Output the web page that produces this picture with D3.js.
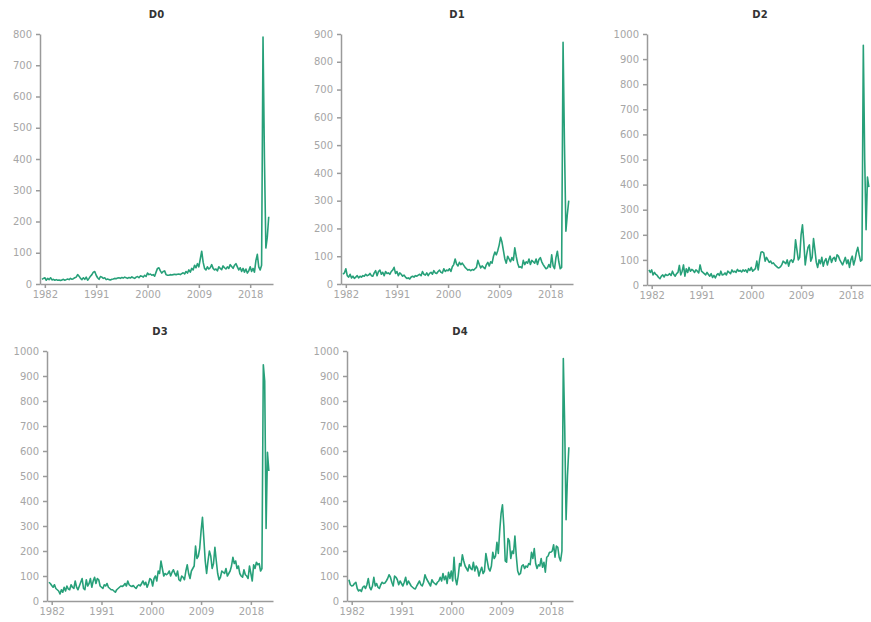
<!DOCTYPE html>
<html>
<head>
<meta charset="utf-8">
<script src="https://cdn.jsdelivr.net/npm/d3@7"></script>
<style>
  body { margin: 0; background: #fff; }
  .axis text { font: 10px "DejaVu Sans", Verdana, sans-serif; fill: #a6a6a6; }
  .axis path, .axis line { stroke: #9a9a9a; stroke-width: 1.5; }
  .title { font: bold 10px "DejaVu Sans", Verdana, sans-serif; fill: #333; }
</style>
</head>
<body>
<div id="chart"></div>
<script>
// Quarterly series, first value at 1981.5
const startYear = 1981.5;
const step = 0.25;

const titles = ["D0", "D1", "D2", "D3", "D4"];
const yMax = [800, 900, 1000, 1000, 1000];
const xTicks = [1982, 1991, 2000, 2009, 2018];

const d0 = [
  15, 18,
  20, 12, 18, 14,  20, 13, 15, 12,  14, 12, 13, 11,  13, 15, 12, 14,
  16, 14, 18, 15,  17, 20, 22, 30,  25, 18, 14, 20,  15, 22, 12, 18,
  25, 30, 38, 40,  28, 20, 15, 24,  22, 18, 20, 14,  16, 14, 13, 15,
  16, 18, 17, 19,  20, 18, 21, 19,  22, 20, 18, 21,  19, 23, 20, 18,
  22, 24, 20, 26,  25, 22, 28, 24,  35, 30, 32, 28,  30, 25, 38, 50,
  52, 42, 35, 40,  42, 30, 28, 28,  30, 29, 30, 31,  30, 31, 32, 30,
  33, 36, 32, 40,  35, 45, 38, 50,  45, 60, 52, 65,  55, 80, 105, 70,
  50, 45, 55, 48,  52, 62, 50, 45,  48, 42, 55, 50,  46, 58, 52, 48,
  55, 50, 62, 56,  50, 60, 65, 55,  45, 52, 40, 50,  38, 48, 35, 42,
  55, 40, 50, 38,  75, 95, 55, 45,  60, 790, 400, 115,
  150, 215
];

const d1 = [
  35, 40,
  55, 30, 25, 35,  22, 28, 20, 25,  30, 22, 28, 25,  30, 28, 35, 30,
  32, 38, 30, 28,  40, 48, 30, 45,  50, 35, 42, 30,  45, 38, 40, 35,
  45, 50, 60, 38,  45, 30, 40, 35,  28, 32, 25, 20,  22, 18, 25, 28,
  25, 30, 28, 32,  35, 30, 45, 35,  32, 40, 30, 38,  42, 35, 48, 40,
  38, 45, 50, 42,  40, 55, 45, 50,  48, 55, 45, 62,  70, 90, 72, 65,
  78, 70, 75, 68,  60, 55, 50, 52,  48, 52, 50, 55,  60, 85, 70, 58,
  65, 60, 55, 70,  78, 65, 80, 75,  100, 115, 105, 120,  140, 168, 150, 120,
  90, 75, 100, 90,  80, 95, 85, 130,  100, 75, 60, 62,  58, 85, 70, 80,
  75, 90, 70, 85,  80, 75, 90, 70,  88, 95, 80, 70,  62, 55, 58, 70,
  60, 105, 65, 55,  95, 118, 80, 55,  60, 870, 500, 190,
  250, 300
];

const d2 = [
  60, 50,
  60, 40, 50, 42,  38, 30, 25, 35,  40, 32, 42, 38,  40, 45, 38, 55,
  42, 35, 45, 50,  78, 40, 55, 80,  35, 65, 50, 70,  55, 62, 58, 50,
  60, 55, 48, 80,  55, 50, 45, 40,  50, 42, 35, 45,  30, 38, 28, 40,
  45, 38, 55, 40,  42, 48, 40, 55,  50, 45, 60, 52,  55, 50, 62, 55,
  58, 52, 60, 55,  60, 50, 65, 58,  70, 55, 60, 65,  95, 60, 100, 130,
  132, 128, 95, 110,  100, 90, 95, 85,  88, 80, 75, 70,  68, 72, 80, 95,
  90, 85, 100, 75,  95, 100, 90, 105,  180, 140, 100, 110,  200, 240, 170, 80,
  120, 150, 160, 95,  110, 185, 140, 90,  70, 100, 85, 110,  75, 95, 105, 80,
  100, 115, 90, 105,  110, 95, 120, 115,  100, 90, 80, 95,  110, 85, 100, 70,
  100, 115, 80, 100,  130, 150, 120, 95,  100, 955, 500, 220,
  430, 390
];

const d3s = [
  75, 70,
  62, 55, 65, 50,  45, 40, 28, 45,  35, 55, 40, 60,  48, 45, 65, 55,
  50, 80, 55, 45,  60, 75, 90, 50,  45, 85, 60, 70,  90, 55, 80, 95,
  70, 90, 85, 60,  55, 50, 65, 60,  70, 55, 50, 45,  45, 40, 35, 45,
  50, 55, 60, 58,  62, 70, 60, 80,  65, 60, 58, 62,  55, 50, 60, 65,
  60, 70, 80, 65,  75, 55, 70, 90,  85, 60, 90, 100,  80, 120, 110, 160,
  130, 100, 110, 105,  110, 120, 100, 115,  125, 110, 100, 120,  85, 80, 100, 95,
  85, 120, 145, 110,  90, 120, 130, 140,  220, 170, 180, 210,  280, 335, 250, 160,
  110, 160, 200, 180,  130, 150, 215, 160,  110, 85, 95, 120,  115, 110, 130, 100,
  110, 120, 140, 175,  150, 160, 130, 140,  110, 100, 95, 125,  105, 100, 90, 140,
  110, 80, 145, 130,  155, 145, 150, 120,  130, 945, 880, 290,
  595, 520
];

const d4 = [
  85, 65,
  60, 62, 70, 75,  50, 40, 45, 38,  55, 60, 50, 65,  90, 55, 45, 60,
  95, 60, 70, 55,  50, 65, 75, 70,  72, 80, 90, 105,  95, 75, 60, 100,
  95, 85, 65, 80,  70, 60, 75, 95,  65, 80, 70, 60,  55, 50, 48, 60,
  70, 80, 65, 60,  75, 105, 90, 80,  70, 60, 85, 75,  70, 65, 75, 80,
  95, 80, 110, 85,  100, 70, 115, 90,  120, 80, 175, 90,  65, 100, 150, 140,
  185, 160, 140, 130,  120, 145, 130, 125,  155, 120, 140, 130,  100, 120, 135, 110,
  120, 190, 160, 130,  120, 140, 195, 170,  180, 235, 190, 280,  350, 385, 300, 160,
  155, 250, 240, 170,  200, 190, 260, 180,  120, 105, 110, 140,  145, 130, 140, 135,
  150, 145, 195, 170,  210, 150, 130, 145,  140, 170, 135, 155,  115, 175, 180, 195,
  195, 200, 225, 175,  220, 215, 175, 160,  200, 970, 700, 325,
  500, 615
];

const series = [d0, d1, d2, d3s, d4];

// panel frames: y-axis x position, x-axis end, top of y range, baseline
const frames = [
  { left: 40,  right: 273, top: 34,  bottom: 284 },
  { left: 341, right: 573, top: 34,  bottom: 284 },
  { left: 647, right: 873, top: 34,  bottom: 285 },
  { left: 47,  right: 273, top: 351, bottom: 601 },
  { left: 347, right: 573, top: 351, bottom: 601 }
];
const titleY = [18, 18, 18, 335, 335];

const svg = d3.select("#chart").append("svg")
    .attr("width", 871)
    .attr("height", 622);

series.forEach((values, i) => {
  const f = frames[i];
  const x = d3.scaleLinear().domain([1981.15, 2022]).range([f.left, f.right]);
  const y = d3.scaleLinear().domain([0, yMax[i]]).range([f.bottom, f.top]);

  const g = svg.append("g");

  g.append("text")
      .attr("class", "title")
      .attr("x", (f.left + f.right) / 2)
      .attr("y", titleY[i])
      .attr("text-anchor", "middle")
      .text(titles[i]);

  g.append("g")
      .attr("class", "axis")
      .attr("transform", `translate(0,${f.bottom})`)
      .call(d3.axisBottom(x)
          .tickValues(xTicks)
          .tickFormat(d3.format("d"))
          .tickSize(4)
          .tickPadding(3)
          .tickSizeOuter(0));

  g.append("g")
      .attr("class", "axis")
      .attr("transform", `translate(${f.left},0)`)
      .call(d3.axisLeft(y)
          .tickValues(d3.range(0, yMax[i] + 1, 100))
          .tickFormat(d3.format("d"))
          .tickSize(4)
          .tickPadding(4)
          .tickSizeOuter(0));

  const line = d3.line()
      .x((d, j) => x(startYear + j * step))
      .y(d => y(d));

  g.append("path")
      .datum(values)
      .attr("fill", "none")
      .attr("stroke", "#27a079")
      .attr("stroke-width", 1.6)
      .attr("stroke-linejoin", "round")
      .attr("d", line);
});
</script>
</body>
</html>
